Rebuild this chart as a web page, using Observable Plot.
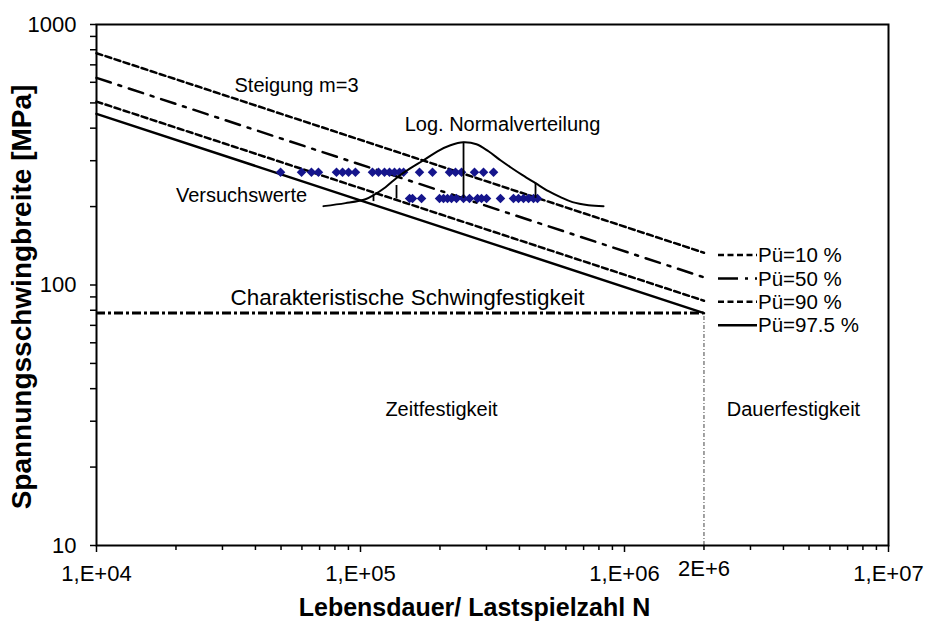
<!DOCTYPE html>
<html>
<head>
<meta charset="utf-8">
<script src="https://cdn.jsdelivr.net/npm/d3@7"></script>
<script src="https://cdn.jsdelivr.net/npm/@observablehq/plot@0.6"></script>
<style>
  html, body { margin: 0; padding: 0; background: #fff; }
  #wrap { position: relative; width: 928px; height: 626px; font-family: "Liberation Sans", Arial, sans-serif; }
  #legend { position: absolute; left: 0; top: 0; pointer-events: none; }
</style>
</head>
<body>
<div id="wrap"></div>
<script>
// ---------- data ----------
const seriesNames = ["Pü=10 %", "Pü=50 %", "Pü=90 %", "Pü=97.5 %"];
const nStart = 1e4;          // cycles at left edge
const nKnee = 2e6;           // knee point (cycles)
const stressAtStart = [776, 624, 506, 454];   // MPa at N = 1E4
const stressAtKnee = [133, 107, 87, 78];      // MPa at N = 2E6
const charStrength = 78;                       // characteristic fatigue strength (MPa)

// test results ("Versuchswerte"): two stress levels
const upperStress = 271;
const upperN = [49800, 59800, 65200, 69300, 81100, 85500, 90100, 95700, 111000, 117000,
  123300, 128800, 134500, 140500, 145600, 167300, 187400, 217400, 229000, 241400,
  270300, 292400, 319100];
const lowerStress = 215;
const lowerN = [153400, 157400, 170300, 199200, 206300, 213600, 221200, 231000, 245600,
  258800, 277500, 287300, 300200, 339000, 379700, 396800, 414500, 433000, 452200, 468300];

// log-normal distribution sketch
const bellN = [72400, 87750, 104400, 112000, 124400, 138100, 154700, 173200, 195700, 219200,
  245600, 275000, 305300, 339000, 370000, 410900, 460200, 515300, 572200, 635300, 730500, 832700];
const bellS = [200.8, 206.2, 213.5, 221.2, 237.4, 259.3, 280.8, 301.2, 326.1, 343.9,
  353, 347, 326.1, 301.2, 283.2, 264, 245.9, 229.2, 217.4, 208, 202.5, 200.8];
const bellTickN = [112000, 136900, 245600, 460200];
const bellTickTop = [221, 241, 353, 246];
const bellTickBottom = [209, 214, 215, 215];

// annotations
const notes = ["Steigung m=3", "Log. Normalverteilung", "Versuchswerte",
  "Zeitfestigkeit", "Dauerfestigkeit"];
const notesN = [57230, 345000, 35420, 202700, 4365000];
const notesS = [584, 414, 221, 33.2, 33.2];
const charLabel = "Charakteristische Schwingfestigkeit";
const charLabelN = 150700, charLabelS = 89.2;

// axes
const xTicks = [1e4, 1e5, 1e6, 1e7];
const xTickLabels = ["1,E+04", "1,E+05", "1,E+06", "1,E+07"];
const xMinor = [2e4,3e4,4e4,5e4,6e4,7e4,8e4,9e4, 2e5,3e5,4e5,5e5,6e5,7e5,8e5,9e5, 2e6,3e6,4e6,5e6,6e6,7e6,8e6,9e6];
const yTicks = [10, 100, 1000];
const yTickLabels = ["10", "100", "1000"];
const yMinor = [20,30,40,50,60,70,80,90, 200,300,400,500,600,700,800,900];
const kneeLabel = "2E+6";
const xTitle = "Lebensdauer/ Lastspielzahl N";
const yTitle = "Spannungsschwingbreite [MPa]";

// ---------- styles ----------
const dashes = ["6,3.5", "15,8,3,8", "6,3.5", null];
const font = "Liberation Sans, Arial, sans-serif";

// ---------- build ----------
const lineRows = seriesNames.flatMap((name, i) => [
  {name, N: nStart, S: stressAtStart[i]},
  {name, N: nKnee, S: stressAtKnee[i]}
]);
const points = [
  ...upperN.map(N => ({N, S: upperStress})),
  ...lowerN.map(N => ({N, S: lowerStress}))
];
const bell = bellN.map((N, i) => ({N, S: bellS[i]}));
const bellTicks = bellTickN.map((N, i) => ({N, top: bellTickTop[i], bottom: bellTickBottom[i]}));
const noteRows = notes.map((t, i) => ({t, N: notesN[i], S: notesS[i]}));
const xLab = new Map(xTicks.map((t, i) => [t, xTickLabels[i]]));
const yLab = new Map(yTicks.map((t, i) => [t, yTickLabels[i]]));

const W = 928, H = 626, mL = 96, mR = 40, mT = 24, mB = 81;

const chart = Plot.plot({
  width: W, height: H,
  marginLeft: mL, marginRight: mR, marginTop: mT, marginBottom: mB,
  style: {fontFamily: font, background: "#fff", color: "#000"},
  x: {type: "log", domain: [1e4, 1e7]},
  y: {type: "log", domain: [10, 1000]},
  marks: [
    // knee vertical
    Plot.ruleX([nKnee], {y1: 10, y2: charStrength, stroke: "#444", strokeWidth: 1, strokeDasharray: "4,2,1,2"}),
    // characteristic strength
    Plot.ruleY([charStrength], {x1: nStart, x2: nKnee, stroke: "#000", strokeWidth: 3, strokeDasharray: "9,3,3,3"}),
    // S-N lines
    ...seriesNames.map((name, i) => Plot.line(lineRows.filter(d => d.name === name), {
      x: "N", y: "S", stroke: "#000", strokeWidth: 2.5, strokeDasharray: dashes[i]
    })),
    // test results
    Plot.dot(points, {x: "N", y: "S", symbol: "diamond2", r: 4.3, fill: "#15158c", stroke: "none"}),
    // log-normal sketch
    Plot.line(bell, {x: "N", y: "S", curve: "catmull-rom", stroke: "#000", strokeWidth: 2}),
    Plot.ruleX(bellTicks, {x: "N", y1: "bottom", y2: "top", stroke: "#000", strokeWidth: 1.8}),
    // annotations
    Plot.text(noteRows, {x: "N", y: "S", text: "t", fontSize: 20, fill: "#000"}),
    Plot.text([charLabel], {x: () => charLabelN, y: () => charLabelS, text: d => d, fontSize: 22.5, fill: "#000"}),
    // axes
    Plot.axisX(xTicks, {anchor: "bottom", tickSize: 7, tickPadding: 13, fontSize: 22, tickFormat: d => xLab.get(d), label: null, strokeWidth: 1.5}),
    Plot.axisX(xMinor, {anchor: "bottom", tickSize: 5, tickFormat: () => "", label: null, strokeWidth: 1.5}),
    Plot.axisY(yTicks, {anchor: "left", tickSize: 6, tickPadding: 14, fontSize: 22, tickFormat: d => yLab.get(d), label: null, strokeWidth: 1.5}),
    Plot.axisY(yMinor, {anchor: "left", tickSize: 6, tickFormat: () => "", label: null, strokeWidth: 1.5}),
    Plot.text([kneeLabel], {x: () => nKnee, frameAnchor: "bottom", dy: 23, lineAnchor: "middle", text: d => d, fontSize: 22}),
    Plot.text([xTitle], {frameAnchor: "bottom", dx: -18, dy: 62, lineAnchor: "middle", textAnchor: "middle", text: d => d, fontSize: 25, fontWeight: "bold"}),
    Plot.text([yTitle], {frameAnchor: "left", dx: -74, dy: 12, rotate: -90, lineAnchor: "middle", textAnchor: "middle", text: d => d, fontSize: 28, fontWeight: "bold"}),
    Plot.frame({stroke: "#000", strokeWidth: 2})
  ]
});
const wrap = document.getElementById("wrap");
wrap.appendChild(chart);

// ---------- legend (overlay) ----------
const lg = d3.select(wrap).append("svg").attr("id", "legend").attr("width", W).attr("height", H);
const lgX = 718, lgY0 = 255, lgStep = 23.4, lgLen = 39;
seriesNames.forEach((name, i) => {
  const y = lgY0 + i * lgStep;
  const ln = lg.append("line").attr("x1", lgX).attr("x2", lgX + lgLen).attr("y1", y).attr("y2", y)
    .attr("stroke", "#000").attr("stroke-width", 2.5);
  if (dashes[i]) ln.attr("stroke-dasharray", i === 1 ? "20,7,3,7" : dashes[i]);
  lg.append("text").attr("x", lgX + lgLen + 1).attr("y", y).attr("dy", "0.35em")
    .attr("font-family", font).attr("font-size", 20.5).attr("fill", "#000").text(name);
});
</script>
</body>
</html>
